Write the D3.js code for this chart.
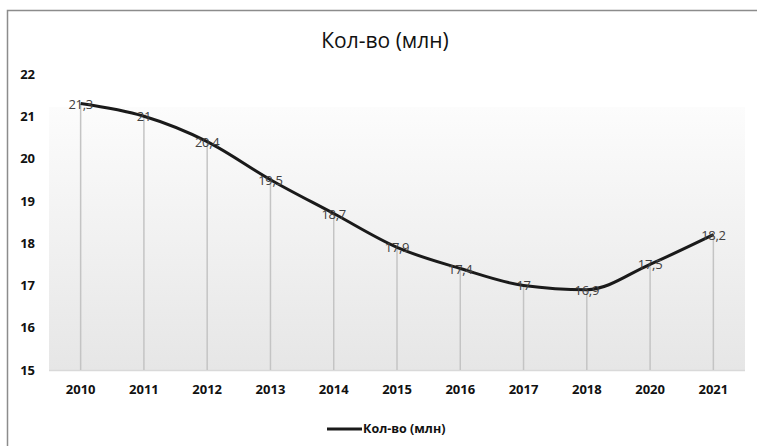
<!DOCTYPE html>
<html>
<head>
<meta charset="utf-8">
<script src="https://cdn.jsdelivr.net/npm/d3@7"></script>
<style>
  body { margin: 0; background: #fff; }
  svg { display: block; }
  text { font-family: "Open Sans", "Noto Sans", sans-serif; }
</style>
</head>
<body>
<div id="chart"></div>
<script>
// data
var years = ['2010', '2011', '2012', '2013', '2014', '2015', '2016', '2017', '2018', '2020', '2021'];
var values = [21.3, 21, 20.4, 19.5, 18.7, 17.9, 17.4, 17, 16.9, 17.5, 18.2];
var yTicks = [15, 16, 17, 18, 19, 20, 21, 22];
var seriesName = 'Кол-во (млн)';

var width = 757, height = 446;
var svg = d3.select('#chart').append('svg')
  .attr('width', width).attr('height', height);

// outer frame
svg.append('rect')
  .attr('x', 7.5).attr('y', 10.5)
  .attr('width', 760).attr('height', 450)
  .attr('fill', '#fff').attr('stroke', '#8c8c8c').attr('stroke-width', 1.5);

var plotLeft = 49, plotRight = 745, plotTop = 74, plotBottom = 370;

var x = d3.scaleBand().domain(years).range([plotLeft, plotRight]);
var y = d3.scaleLinear().domain([15, 22]).range([plotBottom, plotTop]);

// plot area gradient
var grad = svg.append('defs').append('linearGradient')
  .attr('id', 'bg').attr('x1', 0).attr('y1', 0).attr('x2', 0).attr('y2', 1);
grad.append('stop').attr('offset', '0%').attr('stop-color', '#fcfcfc');
grad.append('stop').attr('offset', '100%').attr('stop-color', '#e6e6e6');

svg.append('rect')
  .attr('x', plotLeft).attr('y', 107)
  .attr('width', plotRight - plotLeft).attr('height', plotBottom - 107)
  .attr('fill', 'url(#bg)');

// baseline
svg.append('line')
  .attr('x1', plotLeft).attr('x2', plotRight)
  .attr('y1', plotBottom + 0.5).attr('y2', plotBottom + 0.5)
  .attr('stroke', '#d9d9d9').attr('stroke-width', 1.5);

// title
svg.append('text')
  .attr('x', 385).attr('y', 48)
  .attr('text-anchor', 'middle')
  .attr('font-size', 21).attr('fill', '#111')
  .text(seriesName);

// y axis labels
var yAxis = d3.axisLeft(y).tickValues(yTicks).tickFormat(d3.format('d')).tickSize(0).tickPadding(0);
var gy = svg.append('g').attr('transform', 'translate(35,0)').call(yAxis);
gy.select('.domain').remove();
gy.selectAll('text')
  .attr('font-family', '"Open Sans", sans-serif')
  .attr('font-size', 13).attr('font-weight', 'bold').attr('fill', '#111');

// x axis labels
var xAxis = d3.axisBottom(x).tickSize(0).tickPadding(0);
var gx = svg.append('g').attr('transform', 'translate(0,385)').call(xAxis);
gx.select('.domain').remove();
gx.selectAll('text')
  .attr('font-family', '"Open Sans", sans-serif')
  .attr('font-size', 13).attr('font-weight', 'bold').attr('fill', '#111');

var cx = function (d, i) { return x(years[i]) + x.bandwidth() / 2; };

// drop lines
svg.selectAll('.drop').data(values).enter().append('line')
  .attr('class', 'drop')
  .attr('x1', cx).attr('x2', cx)
  .attr('y1', function (d) { return y(d); })
  .attr('y2', plotBottom)
  .attr('stroke', '#c4c4c4').attr('stroke-width', 1.5);

// line
var line = d3.line()
  .x(cx)
  .y(function (d) { return y(d); })
  .curve(d3.curveMonotoneX);

svg.append('path')
  .datum(values)
  .attr('d', line)
  .attr('fill', 'none')
  .attr('stroke', '#1a1a1a').attr('stroke-width', 3);

// data labels
svg.selectAll('.lbl').data(values).enter().append('text')
  .attr('class', 'lbl')
  .attr('x', cx)
  .attr('y', function (d) { return y(d) + 5; })
  .attr('text-anchor', 'middle')
  .attr('font-size', 13).attr('fill', '#404040')
  .attr('letter-spacing', -0.3)
  .text(function (d) { return String(d).replace('.', ','); });

// legend
svg.append('line')
  .attr('x1', 327).attr('x2', 362)
  .attr('y1', 429).attr('y2', 429)
  .attr('stroke', '#1a1a1a').attr('stroke-width', 3);
svg.append('text')
  .attr('x', 363).attr('y', 433)
  .attr('font-size', 12.5).attr('font-weight', 'bold').attr('fill', '#111')
  .text(seriesName);
</script>
</body>
</html>
